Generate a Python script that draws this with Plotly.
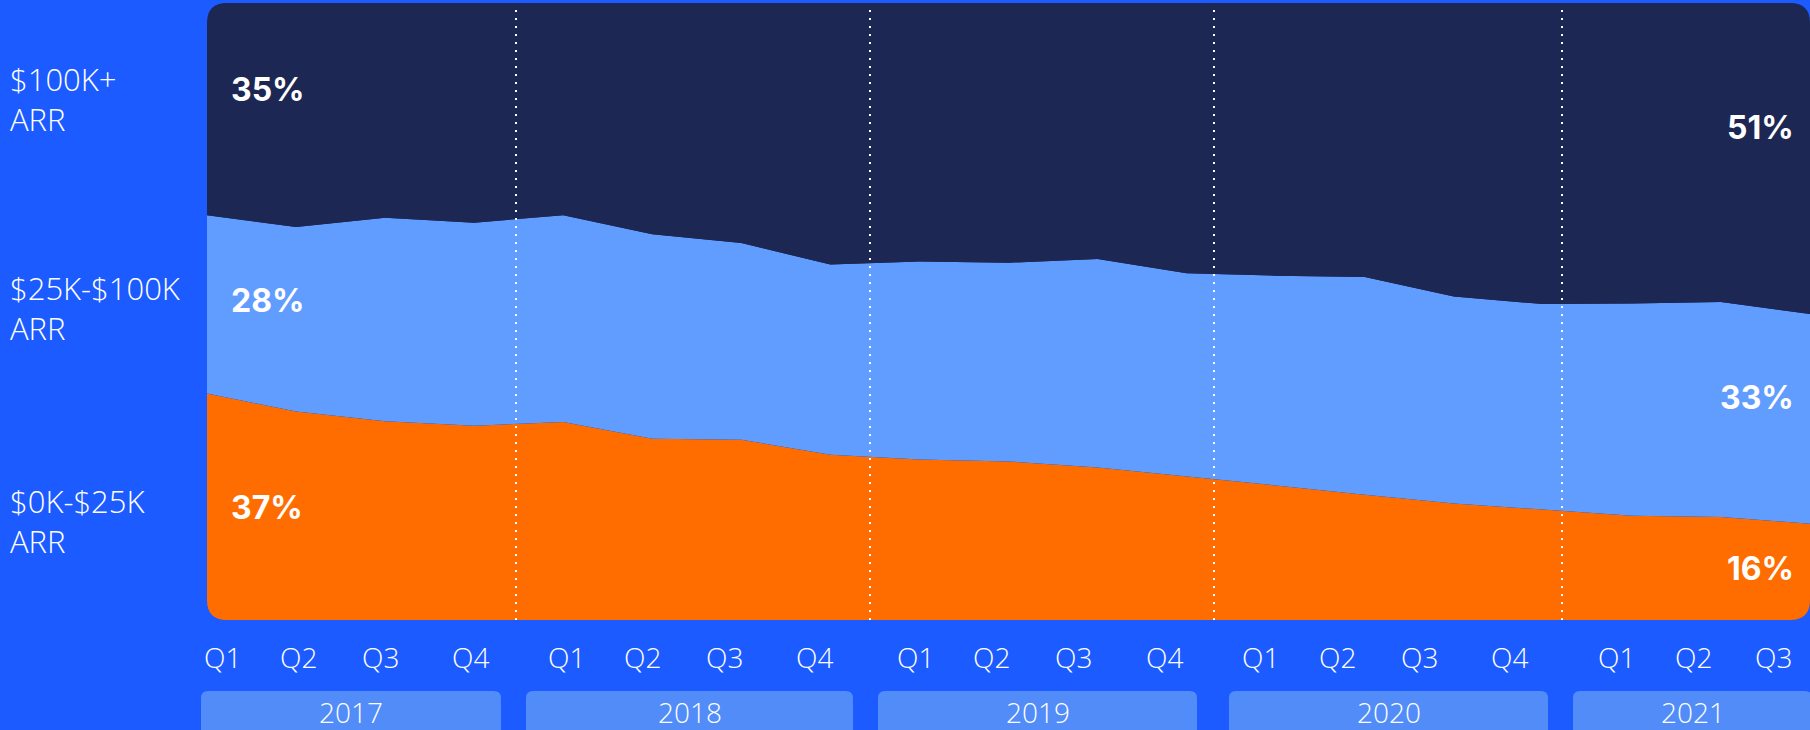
import plotly.graph_objects as go

# ---------------- data (percent of ARR, 2017 Q1 .. 2021 Q3) ----------------
periods = [
    "2017 Q1", "2017 Q2", "2017 Q3", "2017 Q4",
    "2018 Q1", "2018 Q2", "2018 Q3", "2018 Q4",
    "2019 Q1", "2019 Q2", "2019 Q3", "2019 Q4",
    "2020 Q1", "2020 Q2", "2020 Q3", "2020 Q4",
    "2021 Q1", "2021 Q2", "2021 Q3",
]
arr_0_25k = [36.7, 33.8, 32.2, 31.5, 32.1, 29.4, 29.2, 26.8, 26.0, 25.7,
             24.7, 23.3, 21.8, 20.3, 18.9, 17.9, 16.9, 16.7, 15.6]
arr_25_100k = [28.9, 29.9, 33.0, 32.9, 33.5, 33.2, 31.9, 30.8, 32.1, 32.2,
               33.8, 32.9, 34.0, 35.3, 33.6, 33.3, 34.4, 34.9, 34.0]
arr_100k_plus = [34.4, 36.3, 34.8, 35.6, 34.4, 37.5, 38.9, 42.4, 41.9, 42.1,
                 41.5, 43.8, 44.2, 44.4, 47.6, 48.8, 48.7, 48.5, 50.4]

series_names = ["$0K-$25K<br>ARR", "$25K-$100K<br>ARR", "$100K+<br>ARR"]
start_labels = ["37%", "28%", "35%"]
end_labels = ["16%", "33%", "51%"]
quarter_labels = ["Q1", "Q2", "Q3", "Q4"] * 4 + ["Q1", "Q2", "Q3"]
year_labels = ["2017", "2018", "2019", "2020", "2021"]

# ---------------- layout constants (pixels) ----------------
W, H = 1810, 730
PL, PR, PT, PB = 207, 1810, 3, 620

BG = "#1b5bff"
NAVY = "#1c2753"
LIGHT = "#619cff"
ORANGE = "#ff6d00"
BOX = "#518cf8"
WHITE = "#ffffff"
LIGHT_FONT = "Open Sans"
BOLD_FONT = "Inter"


def px(x):
    return (x - PL) / (PR - PL)


def py(y):
    return (PB - y) / (PB - PT)


def pt(x, y):
    return f"{px(x):.6f},{py(y):.6f}"


x_idx = list(range(len(periods)))

fig = go.Figure()
for vals, col, name in [(arr_0_25k, ORANGE, series_names[0]),
                        (arr_25_100k, LIGHT, series_names[1]),
                        (arr_100k_plus, NAVY, series_names[2])]:
    fig.add_trace(go.Scatter(
        x=x_idx, y=vals, customdata=periods, name=name,
        mode="lines", line=dict(width=0, color=col),
        stackgroup="one", groupnorm="percent",
        fillcolor=col, hoverinfo="skip", showlegend=False,
    ))

shapes = []

# rounded corners of the plot area (covered with background colour)
r = 20
corners = [
    (PL, PT, +1, +1), (PR, PT, -1, +1), (PL, PB, +1, -1), (PR, PB, -1, -1)
]
for cx, cy, sx, sy in corners:
    path = (f"M{pt(cx, cy)} L{pt(cx + sx * r, cy)} "
            f"Q{pt(cx, cy)} {pt(cx, cy + sy * r)} Z")
    shapes.append(dict(type="path", xref="paper", yref="paper", path=path,
                       fillcolor=BG, line=dict(width=0), layer="above"))

# year separators (dotted)
sep_x = [516, 870, 1214, 1562]
for sx_ in sep_x:
    shapes.append(dict(type="line", xref="paper", yref="paper",
                       x0=px(sx_), x1=px(sx_), y0=py(PB), y1=py(PT + 4),
                       line=dict(color=WHITE, width=2, dash="2px,6px"),
                       layer="above"))

# year boxes (rounded rectangles)
box_edges = [(201, 501), (526, 853), (878, 1197), (1229, 1548), (1573, 1812)]
btop, bbot, br = 691, 745, 7
for x0, x1 in box_edges:
    path = (f"M{pt(x0 + br, btop)} L{pt(x1 - br, btop)} "
            f"Q{pt(x1, btop)} {pt(x1, btop + br)} L{pt(x1, bbot)} "
            f"L{pt(x0, bbot)} L{pt(x0, btop + br)} "
            f"Q{pt(x0, btop)} {pt(x0 + br, btop)} Z")
    shapes.append(dict(type="path", xref="paper", yref="paper", path=path,
                       fillcolor=BOX, line=dict(width=0), layer="below"))

annotations = []

# left category labels
left_y = [521, 308, 99]
for name, yy in zip(series_names, left_y):
    annotations.append(dict(
        text=name, x=px(8), y=py(yy), xref="paper", yref="paper",
        xanchor="left", yanchor="middle", align="left", showarrow=False,
        font=dict(family=LIGHT_FONT, size=31, color=WHITE, weight=300)))

# start / end percentage labels
start_y = [507, 300, 89]
end_y = [568, 397, 128]
for lab, yy in zip(start_labels, start_y):
    annotations.append(dict(
        text=lab, x=px(229), y=py(yy), xref="paper", yref="paper",
        xanchor="left", yanchor="middle", showarrow=False,
        font=dict(family=BOLD_FONT, size=32, color=WHITE, weight=700)))
for lab, yy in zip(end_labels, end_y):
    annotations.append(dict(
        text=lab, x=px(1796), y=py(yy), xref="paper", yref="paper",
        xanchor="right", yanchor="middle", showarrow=False,
        font=dict(family=BOLD_FONT, size=32, color=WHITE, weight=700)))

# quarter labels
q_x = [222, 298, 380, 470, 566, 642, 724, 814, 915, 991, 1073, 1164,
       1260, 1337, 1419, 1509, 1616, 1693, 1773]
for lab, xx in zip(quarter_labels, q_x):
    annotations.append(dict(
        text=lab, x=px(xx), y=py(657), xref="paper", yref="paper",
        xanchor="center", yanchor="middle", showarrow=False,
        font=dict(family=LIGHT_FONT, size=28, color=WHITE, weight=300)))

# year labels
for lab, (x0, x1) in zip(year_labels, box_edges):
    annotations.append(dict(
        text=lab, x=px((x0 + x1) / 2), y=py(712), xref="paper", yref="paper",
        xanchor="center", yanchor="middle", showarrow=False,
        font=dict(family=LIGHT_FONT, size=28, color=WHITE, weight=300)))

fig.update_layout(
    width=W, height=H,
    margin=dict(l=PL, r=W - PR, t=PT, b=H - PB, pad=0),
    paper_bgcolor=BG, plot_bgcolor=NAVY,
    xaxis=dict(range=[0, len(periods) - 1], visible=False, fixedrange=True),
    yaxis=dict(range=[0, 100], visible=False, fixedrange=True),
    shapes=shapes, annotations=annotations,
    showlegend=False, hovermode=False,
)

fig.write_html("out.html", config={"displayModeBar": False},
               post_script="document.body.style.margin='0';document.body.style.overflow='hidden';")
